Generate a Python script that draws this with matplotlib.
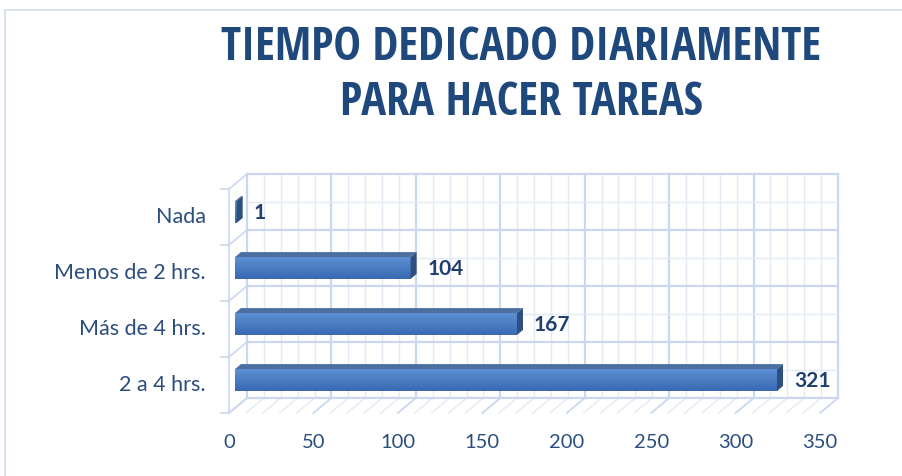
import numpy as np
import matplotlib
matplotlib.use('Agg')
import matplotlib.pyplot as plt
from matplotlib.colors import LinearSegmentedColormap
from matplotlib.patches import Polygon, Rectangle
from matplotlib.transforms import ScaledTranslation

# Daten (von unten nach oben, wie in Excel)
categorias = ['2 a 4 hrs.', 'Más de 4 hrs.', 'Menos de 2 hrs.', 'Nada']
valores = [321, 167, 104, 1]
xticks = [0, 50, 100, 150, 200, 250, 300, 350]
titulo = 'TIEMPO DEDICADO DIARIAMENTE\nPARA HACER TAREAS'

W, H = 903, 476
fig = plt.figure(figsize=(W / 100, H / 100), dpi=100)

# Ebene der Balken-Vorderseite in Pixeln
x0_px, x1_px, top_px, bot_px = 235, 826, 184, 408
ax = fig.add_axes([x0_px / W, (H - bot_px) / H, (x1_px - x0_px) / W, (bot_px - top_px) / H])
ax.axis('off')

# Pixel -> Dateneinheiten
ux = 350 / (x1_px - x0_px)
uy = 4 / (bot_px - top_px)

back = (12 * ux, 10 * uy)     # Rueckwand
front = (-6 * ux, -5 * uy)    # Vorderkante
depth = (6 * ux, 5 * uy)      # Balkentiefe

major_c = '#c9d8ee'
minor_c = '#e2eaf6'

# Rueckwand + Boden
for x in range(0, 351, 10):
    major = x % 50 == 0
    ax.plot([x + back[0]] * 2, [-0.5 + back[1], 3.5 + back[1]],
            color=major_c if major else minor_c, lw=1.6 if major else 1.0,
            zorder=1, clip_on=False)
    ax.plot([x + front[0], x + back[0]], [-0.5 + front[1], -0.5 + back[1]],
            color=major_c if major else minor_c, lw=1.3 if major else 1.0,
            zorder=1, clip_on=False)
for y in np.arange(-0.5, 3.6, 0.5):
    major = (y + 0.5) % 1 == 0
    ax.plot([back[0], 350 + back[0]], [y + back[1]] * 2,
            color=major_c if major else minor_c, lw=1.6 if major else 1.0,
            zorder=1, clip_on=False)

# linke Seitenwand
ax.plot([front[0]] * 2, [-0.5 + front[1], 3.5 + front[1]], color=major_c, lw=1.2,
        zorder=1, clip_on=False)
for y in np.arange(-0.5, 3.6, 1.0):
    ax.plot([front[0], back[0]], [y + front[1], y + back[1]], color=major_c, lw=1.2,
            zorder=1, clip_on=False)
    ax.plot([front[0] - 8 * ux, front[0]], [y + front[1]] * 2, color=major_c, lw=1.2,
            zorder=1, clip_on=False)

# Balken mit Farbverlauf
cmap = LinearSegmentedColormap.from_list('blau', ['#3a69b0', '#4a7cc4', '#5e90d4'])
grad = np.linspace(0, 1, 50).reshape(-1, 1)
h = 0.39
for i, v in enumerate(valores):
    yb, yt = i - h / 2, i + h / 2
    ax.imshow(grad, extent=(0, v, yb, yt), origin='lower', aspect='auto', cmap=cmap,
              zorder=3, clip_on=False)
    ax.add_patch(Polygon([(0, yt), (v, yt), (v + depth[0], yt + depth[1]), (depth[0], yt + depth[1])],
                         closed=True, facecolor='#4d6fa0', edgecolor='none',
                         zorder=3, clip_on=False))
    ax.add_patch(Polygon([(v, yb), (v, yt), (v + depth[0], yt + depth[1]), (v + depth[0], yb + depth[1])],
                         closed=True, facecolor='#2f4f7e', edgecolor='none', zorder=3, clip_on=False))
    ax.text(v, i, str(v), transform=ax.transData + ScaledTranslation(0.17, -0.01, fig.dpi_scale_trans),
            ha='left', va='center', fontsize=15, fontweight='bold', color='#203f6e',
            family=['Lato', 'DejaVu Sans'], zorder=4)
    ax.text(front[0], i, categorias[i],
            transform=ax.transData + ScaledTranslation(-0.23, -0.05, fig.dpi_scale_trans),
            ha='right', va='center', fontsize=15.5, color='#2a4d7f',
            family=['Lato', 'DejaVu Sans'])

ax.set_xlim(0, 350)
ax.set_ylim(-0.5, 3.5)

for t in xticks:
    ax.text(t + front[0], -0.5 + front[1], str(t),
            transform=ax.transData + ScaledTranslation(0, -0.30, fig.dpi_scale_trans),
            ha='center', va='center', fontsize=14.5, color='#2a4d7f',
            family=['Lato', 'DejaVu Sans'])

# Titel
fig.text(521 / W, 1 - 75 / H, titulo, ha='center', va='center', fontsize=33.5,
         fontweight='bold', color='#1f497d', linespacing=1.2,
         family=['Open Sans Condensed', 'Roboto Condensed', 'DejaVu Sans Condensed',
                 'Liberation Sans', 'DejaVu Sans'])

# Rahmen des Diagrammbereichs
fig.patches.append(Rectangle((5 / W, -0.1), 1.2, 1 - 10 / H + 0.1, transform=fig.transFigure,
                             facecolor='none', edgecolor='#d0dcee', lw=1.2))

fig.savefig('out.png', dpi=100)
